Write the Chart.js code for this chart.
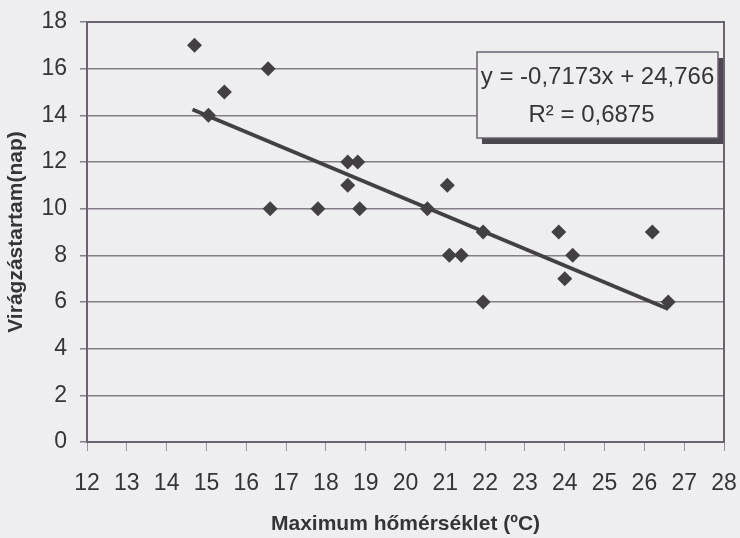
<!DOCTYPE html>
<html>
<head>
<meta charset="utf-8">
<script src="https://cdn.jsdelivr.net/npm/chart.js@4.4.0/dist/chart.umd.min.js"></script>
<style>
  html, body { margin: 0; padding: 0; background: #eeeef0; }
  #wrap { width: 740px; height: 538px; }
</style>
</head>
<body>
<div id="wrap"><canvas id="chart" width="740" height="538"></canvas></div>
<script>
// values
const tempMax = [14.7, 15.05, 15.45, 16.55, 16.6, 17.8, 18.85, 18.55, 18.55, 18.8,
                 21.05, 20.55, 21.95, 21.1, 21.4, 21.95, 23.85, 24.2, 24.0, 26.2, 26.6];
const floweringDays = [17, 14, 15, 16, 10, 10, 10, 11, 12, 12,
                       11, 10, 9, 8, 8, 6, 9, 8, 7, 9, 6];

// ends of the trendline as drawn
const trendX = [14.65, 26.6];
const trendY = [14.25, 5.7];

const xTicks = [12, 13, 14, 15, 16, 17, 18, 19, 20, 21, 22, 23, 24, 25, 26, 27, 28];
const yTicks = [0, 2, 4, 6, 8, 10, 12, 14, 16, 18];

const xTitle = 'Maximum hőmérséklet (ºC)';
const yTitle = 'Virágzástartam(nap)';
const equationLines = ['y = -0,7173x + 24,766', 'R² = 0,6875'];

Chart.defaults.font.family = "'Liberation Sans', Arial, sans-serif";
Chart.defaults.color = '#363438';

const bg = '#eeeef0';
const ink = '#424044';
const gridColor = '#857d88';
const frameColor = '#6a626e';

// frame round the plot + the equation box
const framePlugin = {
    id: 'frame',
    beforeDraw(chart) {
        const ctx = chart.ctx;
        ctx.save();
        ctx.fillStyle = bg;
        ctx.fillRect(0, 0, chart.width, chart.height);
        ctx.restore();
    },
    afterDraw(chart) {
        const { ctx, chartArea } = chart;
        ctx.save();
        ctx.strokeStyle = frameColor;
        ctx.lineWidth = 2;
        ctx.strokeRect(chartArea.left, chartArea.top, chartArea.right - chartArea.left, chartArea.bottom - chartArea.top);

        // equation box, top right
        const bw = 241, bh = 86;
        const bx = chartArea.right - 247;
        const by = chartArea.top + 30;
        ctx.fillStyle = '#4d4850';
        ctx.fillRect(bx + 5, by + 6, bw, bh);
        ctx.fillStyle = bg;
        ctx.fillRect(bx, by, bw, bh);
        ctx.strokeStyle = frameColor;
        ctx.lineWidth = 1.5;
        ctx.strokeRect(bx, by, bw, bh);

        ctx.fillStyle = '#363438';
        ctx.font = "24px 'Liberation Sans', Arial, sans-serif";
        ctx.textAlign = 'center';
        ctx.textBaseline = 'middle';
        ctx.fillText(equationLines[0], bx + bw / 2, by + 25);
        ctx.fillText(equationLines[1], bx + bw / 2 - 6, by + 63);
        ctx.restore();
    }
};

const ctx = document.getElementById('chart').getContext('2d');
new Chart(ctx, {
    type: 'scatter',
    data: {
        datasets: [
            {
                label: 'Virágzástartam',
                data: tempMax.map((x, i) => ({ x: x, y: floweringDays[i] })),
                pointStyle: 'rectRot',
                pointRadius: 7.5,
                pointHoverRadius: 7.5,
                backgroundColor: ink,
                borderWidth: 0
            },
            {
                label: 'Lineáris trend',
                type: 'line',
                data: trendX.map((x, i) => ({ x: x, y: trendY[i] })),
                borderColor: ink,
                borderWidth: 4,
                pointRadius: 0,
                fill: false
            }
        ]
    },
    options: {
        responsive: false,
        animation: false,
        devicePixelRatio: 1,
        layout: { padding: { top: 22, right: 16, left: 0, bottom: 0 } },
        plugins: {
            legend: { display: false },
            tooltip: { enabled: false }
        },
        scales: {
            x: {
                type: 'linear',
                min: xTicks[0],
                max: xTicks[xTicks.length - 1],
                afterBuildTicks: scale => { scale.ticks = xTicks.map(v => ({ value: v })); },
                afterFit: scale => {
                    scale.height = 96;
                    scale.paddingLeft = 0;
                    scale.paddingRight = 0;
                },
                ticks: { font: { size: 23 }, padding: 19, maxRotation: 0, autoSkip: false },
                grid: { drawOnChartArea: false, drawTicks: true, tickLength: 9, color: '#9a929e', lineWidth: 1 },
                border: { display: true, color: frameColor, width: 2 },
                title: { display: true, text: xTitle, font: { size: 21, weight: 'bold' }, padding: { top: 0, bottom: 1 } }
            },
            y: {
                min: yTicks[0],
                max: yTicks[yTicks.length - 1],
                afterBuildTicks: scale => { scale.ticks = yTicks.map(v => ({ value: v })); },
                afterFit: scale => {
                    scale.width = 87;
                    scale.paddingTop = 0;
                    scale.paddingBottom = 0;
                },
                ticks: { font: { size: 23 }, padding: 13 },
                grid: { color: gridColor, lineWidth: 1.5, tickLength: 7 },
                border: { display: true, color: frameColor, width: 2 },
                title: { display: true, text: yTitle, font: { size: 21, weight: 'bold' }, padding: { top: 4, bottom: 0 } }
            }
        }
    },
    plugins: [framePlugin]
});
</script>
</body>
</html>
